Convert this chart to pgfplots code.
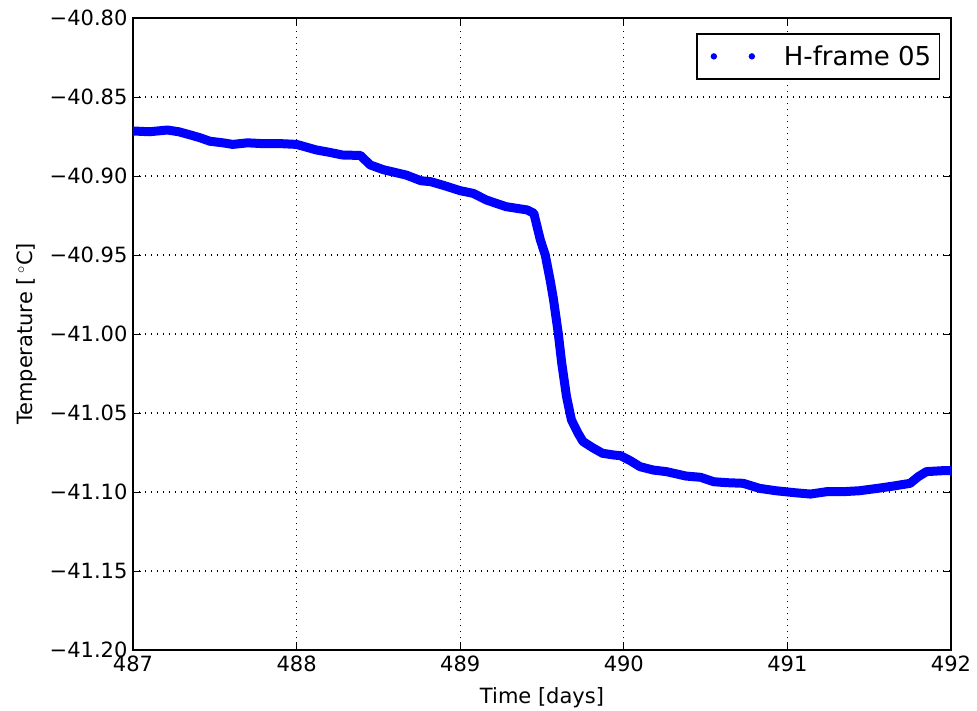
\documentclass[border=0pt]{standalone}
\usepackage{pgfplots}
\pgfplotsset{compat=1.18}
\usepackage{fontspec}
\setmainfont{DejaVu Sans}
\begin{document}
\begin{tikzpicture}
\useasboundingbox (-133pt,-60pt) rectangle (844pt,650pt);
\begin{axis}[
  at={(0pt,0pt)}, anchor=south west,
  scale only axis, width=818pt, height=632pt,
  xmin=487, xmax=492, ymin=-41.2, ymax=-40.8,
  xtick={487,488,489,490,491,492},
  xticklabels={487,488,489,490,491,492},
  ytick={-41.2,-41.15,-41.1,-41.05,-41.0,-40.95,-40.9,-40.85,-40.8},
  yticklabels={−41.20,−41.15,−41.10,−41.05,−41.00,−40.95,−40.90,−40.85,−40.80},
  tick align=inside, tick pos=both,
  major tick length=8pt,
  every tick/.style={black, line width=1pt},
  axis line style={black, line width=1.5pt},
  grid=major,
  grid style={black, line width=1.2pt, dash pattern=on 1.2pt off 4.8pt},
  tick label style={font=\fontsize{21}{25}\selectfont},
  xticklabel style={yshift=-2pt},
  yticklabel style={xshift=-2pt},
  label style={font=\fontsize{21}{25}\selectfont},
  xlabel={Time [days]},
  ylabel={Temperature [\,$^\circ$C]},
  xlabel style={yshift=-9pt},
  ylabel style={yshift=6pt},
  legend style={at={(1,1)}, anchor=north east, xshift=-11pt, yshift=-15pt,
    draw=black, line width=1.5pt, font=\fontsize{26}{30}\selectfont,
    inner xsep=6pt, inner ysep=10pt},
]
\addplot[blue, line width=9pt, line join=round, line cap=round,
  legend image code/.code={%
    \path[draw=none, fill=blue, line width=0pt] (0pt,0pt) circle (3.2pt);
    \path[draw=none, fill=blue, line width=0pt] (38pt,0pt) circle (3.2pt);
    \path[draw=none, fill=none] (-11pt,-4pt) rectangle (68pt,4pt);}] coordinates {
(487.00,-40.8715)
(487.10,-40.8720)
(487.21,-40.8709)
(487.28,-40.8720)
(487.35,-40.8740)
(487.41,-40.8758)
(487.47,-40.8780)
(487.55,-40.8790)
(487.61,-40.8800)
(487.70,-40.8790)
(487.79,-40.8795)
(487.90,-40.8795)
(488.00,-40.8800)
(488.12,-40.8835)
(488.20,-40.8850)
(488.28,-40.8867)
(488.39,-40.8870)
(488.45,-40.8930)
(488.53,-40.8960)
(488.67,-40.8994)
(488.76,-40.9030)
(488.82,-40.9036)
(488.90,-40.9060)
(489.00,-40.9093)
(489.08,-40.9110)
(489.16,-40.9152)
(489.28,-40.9194)
(489.41,-40.9215)
(489.45,-40.9236)
(489.49,-40.9405)
(489.52,-40.9500)
(489.55,-40.9660)
(489.57,-40.9780)
(489.60,-41.0000)
(489.62,-41.0180)
(489.65,-41.0397)
(489.68,-41.0544)
(489.72,-41.0627)
(489.75,-41.0680)
(489.81,-41.0720)
(489.87,-41.0755)
(489.94,-41.0766)
(489.98,-41.0770)
(490.04,-41.0802)
(490.10,-41.0840)
(490.18,-41.0861)
(490.26,-41.0871)
(490.38,-41.0899)
(490.47,-41.0907)
(490.55,-41.0935)
(490.63,-41.0941)
(490.73,-41.0945)
(490.83,-41.0977)
(490.93,-41.0992)
(491.04,-41.1004)
(491.14,-41.1013)
(491.24,-41.0998)
(491.34,-41.0998)
(491.44,-41.0992)
(491.55,-41.0977)
(491.65,-41.0962)
(491.75,-41.0945)
(491.80,-41.0903)
(491.85,-41.0871)
(491.95,-41.0865)
(492.00,-41.0865)
};
\addlegendentry{H-frame 05}
\end{axis}
\end{tikzpicture}
\end{document}
